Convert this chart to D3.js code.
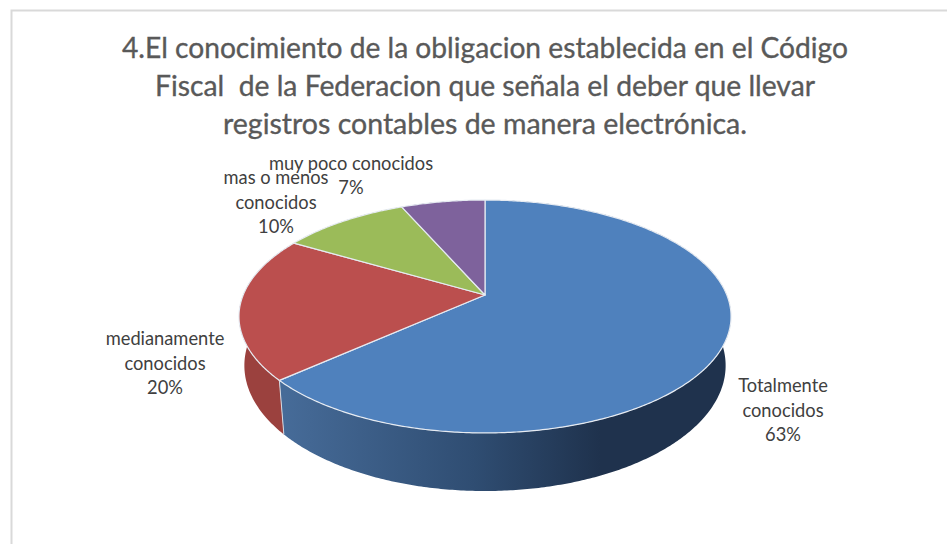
<!DOCTYPE html>
<html lang="es">
<head>
    <meta charset="UTF-8">
    <style>
        body{
            margin:0;
            background:#fff;
        }
        text{
            font-family:Lato, "Open Sans", sans-serif;
        }
        .title{
            fill:#595959;
            stroke:#595959;
            stroke-width:0.35px;
            font-size:29px;
            text-anchor:middle;
            white-space:pre;
        }
        .label{
            fill:#404040;
            font-size:18.3px;
            text-anchor:middle;
        }
    </style>
    <script src="https://d3js.org/d3.v7.min.js"></script>
</head>
<body>
<svg id="pie" width="947" height="544"></svg>
<script>
    // values, the labels show them rounded
    var categories = ["Totalmente conocidos", "medianamente conocidos", "mas o menos conocidos", "muy poco conocidos"];
    var values = [63.4, 20, 10, 6.6];
    var titleLines = [
        "4.El conocimiento de la obligacion establecida en el Código",
        "Fiscal  de la Federacion que señala el deber que llevar",
        "registros contables de manera electrónica."
    ];
    var titleWidths = [726, 660, 524];

    var topColors = ["#4f81bd", "#bb4f4e", "#9bbb59", "#7e629c"];

    // label layout, same order as categories
    var labelSplit = [["Totalmente", "conocidos"], ["medianamente", "conocidos"], ["mas o menos", "conocidos"], ["muy poco conocidos"]];
    var labelX = [783, 165, 276, 351];
    var labelY = [392, 345, 184, 170];
    var labelGap = [24.5, 24.5, 24.5, 24];

    var svg = d3.select("#pie");
    var defs = svg.append("defs");

    var blueSide = defs.append("linearGradient")
        .attr("id", "blueSide")
        .attr("gradientUnits", "userSpaceOnUse")
        .attr("x1", 285).attr("x2", 600)
        .attr("y1", 0).attr("y2", 0);
    blueSide.append("stop").attr("offset", 0).attr("stop-color", "#466b98");
    blueSide.append("stop").attr("offset", 0.6).attr("stop-color", "#2f4d72");
    blueSide.append("stop").attr("offset", 1).attr("stop-color", "#1f324d");

    var sideColors = ["url(#blueSide)", "#9b413e", "#7a8f45", "#5f4a78"];

    // frame of the pasted picture
    svg.append("path")
        .attr("d", "M11.5,544V10.5H947")
        .attr("fill", "none")
        .attr("stroke", "#d9d9d9")
        .attr("stroke-width", 2);

    svg.selectAll(".title")
        .data(titleLines)
        .enter().append("text")
        .attr("class", "title")
        .attr("x", 485)
        .attr("y", function(d, i) { return 58 + i * 38; })
        .attr("textLength", function(d, i) { return titleWidths[i]; })
        .attr("lengthAdjust", "spacingAndGlyphs")
        .text(function(d) { return d; });

    // tilted disc: flat unit circle pushed through a perspective divide
    var cx = 485, cy = 295;
    var persp = 0.1845;
    var topDisc = {a: 241.8, b: 112.5, dy: 0};
    var lowDisc = {a: 236.5, b: 121.2, dy: 47.4};

    function project(angle, disc) {
        var u = Math.sin(angle), v = -Math.cos(angle);
        var w = 1 - persp * v;
        return [cx + disc.a * u / w, cy + disc.dy + disc.b * v / w];
    }

    function arcPoints(d, disc) {
        var n = Math.ceil((d.endAngle - d.startAngle) / 0.01);
        return d3.range(n + 1).map(function(i) {
            return project(d.startAngle + (d.endAngle - d.startAngle) * i / n, disc);
        });
    }

    var line = d3.line();
    var pie = d3.pie().sort(null).value(function(d) { return d; });
    var slices = pie(values);

    // walls first, tops go over whatever part of them is hidden
    svg.selectAll(".side")
        .data(slices)
        .enter().append("path")
        .attr("class", "side")
        .attr("fill", function(d, i) { return sideColors[i]; })
        .attr("d", function(d) {
            return line(arcPoints(d, topDisc).concat(arcPoints(d, lowDisc).reverse())) + "Z";
        });

    svg.selectAll(".slice")
        .data(slices)
        .enter().append("path")
        .attr("class", "slice")
        .attr("fill", function(d, i) { return topColors[i]; })
        .attr("stroke", "#e6ebf2")
        .attr("stroke-width", 1.2)
        .attr("stroke-linejoin", "round")
        .attr("d", function(d) {
            return line([[cx, cy]].concat(arcPoints(d, topDisc))) + "Z";
        });

    // seam on the wall between the two visible slices
    svg.append("path")
        .attr("fill", "none")
        .attr("stroke", "#d5dbe4")
        .attr("stroke-width", 1)
        .attr("d", line([project(slices[1].startAngle, topDisc), project(slices[1].startAngle, lowDisc)]));

    categories.forEach(function(name, i) {
        var lines = labelSplit[i].concat(Math.round(values[i]) + "%");
        svg.append("g").selectAll("text")
            .data(lines)
            .enter().append("text")
            .attr("class", "label")
            .attr("x", labelX[i])
            .attr("y", function(d, j) { return labelY[i] + j * labelGap[i]; })
            .text(function(d) { return d; });
    });
</script>
</body>
</html>
